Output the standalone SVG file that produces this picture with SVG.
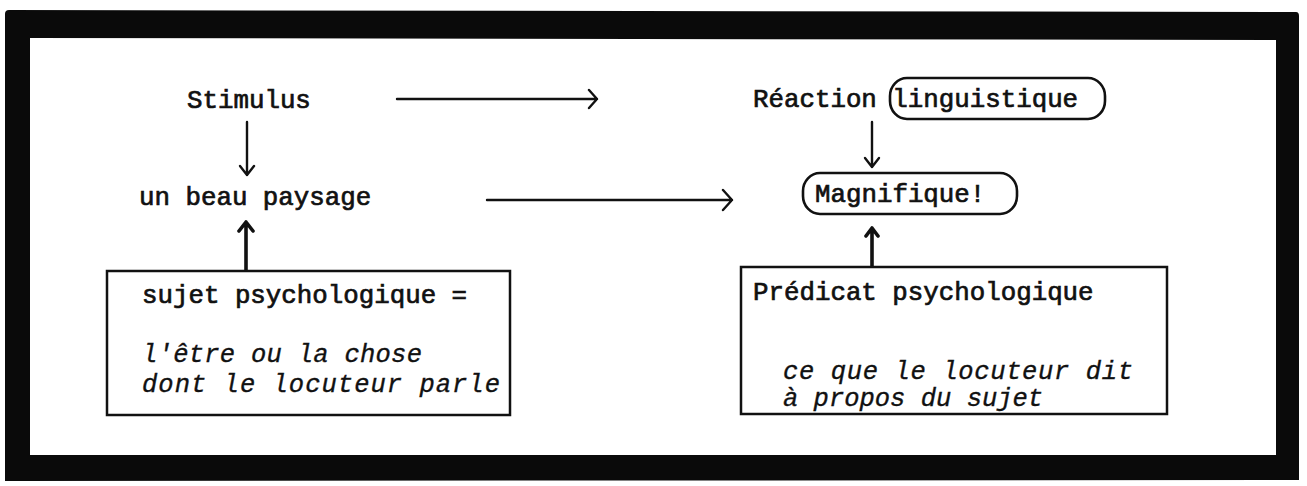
<svg xmlns="http://www.w3.org/2000/svg" width="1307" height="486" viewBox="0 0 1307 486">
  <defs>
    <style>
      .t { font-family: "Liberation Mono", "DejaVu Sans Mono", monospace; font-size: 25.8px; fill: #111; stroke: #111; stroke-width: 0.7; }
      .it { font-family: "Liberation Mono", "DejaVu Sans Mono", monospace; font-size: 25.5px; font-style: italic; fill: #111; stroke: #111; stroke-width: 0.35; }
      .box { fill: #fff; stroke: #111; stroke-width: 2.5; }
      .pill { fill: none; stroke: #111; stroke-width: 2.6; }
      .ln { fill: none; stroke: #111; stroke-width: 2.4; stroke-linecap: round; stroke-linejoin: round; }
      .lnb { fill: none; stroke: #111; stroke-width: 3.6; stroke-linecap: round; stroke-linejoin: round; }
    </style>
  </defs>

  <rect width="1307" height="486" fill="#fff"/>

  <!-- heavy outer frame -->
  <path id="frame" fill="#0a0a0a" fill-rule="evenodd"
        d="M9,10 L1296,12 Q1299,12 1299,16 L1299,480 L5,481 L5,14 Q5,10 9,10 Z
           M30,38 L1276,40 L1276,455 L30,455 Z"/>

  <!-- connectors -->
  <g id="connectors">
    <!-- Stimulus -> Réaction -->
    <path class="ln" d="M397,99 L597,99 M589,90 L597,99 L589,108"/>
    <!-- un beau paysage -> Magnifique! -->
    <path class="ln" d="M487,200 L732,200 M723,190 L732,200 L723,210"/>
    <!-- Stimulus -> un beau paysage -->
    <path class="ln" d="M247,122 L247,175 M240,166 L247,175 L254,166"/>
    <!-- Réaction -> Magnifique! -->
    <path class="ln" d="M872,122 L872,167 M865,158 L872,167 L879,158"/>
    <!-- sujet psychologique -> un beau paysage -->
    <path class="lnb" d="M246,272 L246,222 M239,231 L246,222 L253,231"/>
    <!-- Prédicat psychologique -> Magnifique! -->
    <path class="lnb" d="M872,267 L872,228 M866,236 L872,228 L878,236"/>
  </g>

  <g id="stimulus">
    <text class="t" x="187" y="108">Stimulus</text>
  </g>

  <g id="paysage">
    <text class="t" x="139" y="205">un beau paysage</text>
  </g>

  <g id="reaction">
    <text class="t" x="753" y="107">Réaction linguistique</text>
    <rect class="pill" x="890" y="78" width="215" height="41" rx="17" ry="18"/>
  </g>

  <g id="magnifique">
    <rect class="pill" x="803" y="173" width="214" height="41" rx="17" ry="18"/>
    <text class="t" x="815" y="202">Magnifique!</text>
  </g>

  <g id="sujet">
    <rect class="box" x="107" y="271" width="403" height="144"/>
    <text class="t" x="142" y="303">sujet psychologique =</text>
    <text class="it" x="142" y="362" textLength="280" lengthAdjust="spacing">l'être ou la chose</text>
    <text class="it" x="142" y="392" textLength="358" lengthAdjust="spacing">dont le locuteur parle</text>
  </g>

  <g id="predicat">
    <rect class="box" x="741" y="267" width="426" height="147"/>
    <text class="t" x="753" y="300">Prédicat psychologique</text>
    <text class="it" x="783" y="379" textLength="350" lengthAdjust="spacing">ce que le locuteur dit</text>
    <text class="it" x="783" y="406">à propos du sujet</text>
  </g>
</svg>
